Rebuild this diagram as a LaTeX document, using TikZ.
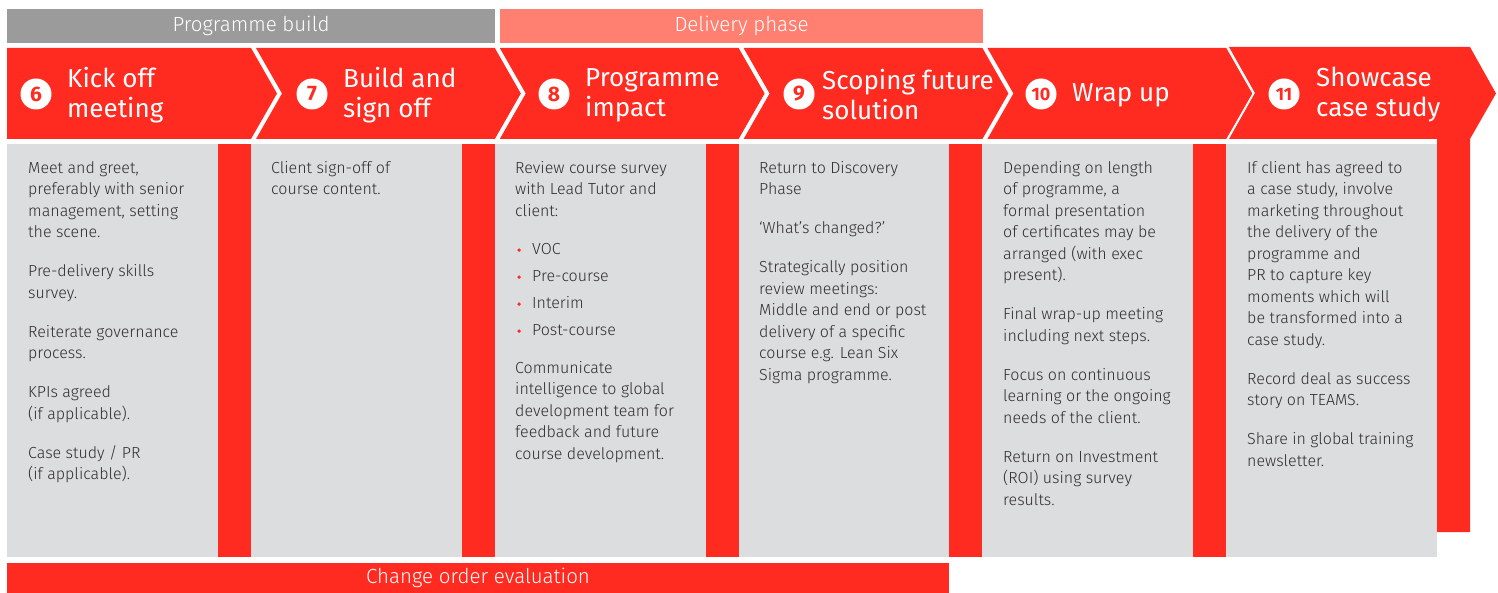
\documentclass[tikz,border=0pt]{standalone}
\usepackage{fontspec}
\setmainfont{Fira Sans Light}
\newfontfamily\headfont{Fira Sans}
\usetikzlibrary{positioning}
\definecolor{brandred}{RGB}{255,42,32}
\definecolor{salmon}{RGB}{255,128,112}
\definecolor{phasegray}{RGB}{155,155,155}
\definecolor{boxgray}{RGB}{220,221,223}
\definecolor{bodytext}{RGB}{45,45,45}
\newcommand{\pgap}{\\[17.5pt]}
\newcommand{\bitem}[1]{\makebox[17pt][l]{\hspace{2pt}\tikz[baseline=-4.2pt]\fill[brandred] (0,0) circle[radius=1.9pt];}#1}

\begin{document}
\begin{tikzpicture}[x=1pt, y=-1pt,
    phase/.style={text=white, inner sep=0pt, font=\fontsize{20.5}{20.5}\selectfont},
    head/.style={anchor=west, text=white, align=left, inner sep=0pt, font=\headfont\fontsize{26}{30}\selectfont},
    num/.style={circle, fill=white, text=brandred, minimum size=31pt, inner sep=0pt, font=\headfont\bfseries\fontsize{21}{21}\selectfont},
    body/.style={anchor=north west, text=bodytext, align=left, inner sep=0pt, font=\fontsize{16}{21.5}\selectfont}]
  \useasboundingbox (0,0) rectangle (1498,593);
  % phase bars
  \fill[phasegray] (7,9) rectangle (495,43);
  \fill[salmon] (500,9) rectangle (983,43);
  \node[phase] (build) at (251,26) {Programme build};
  \node[phase] (delivery) at (741.5,26) {Delivery phase};
  % chevrons
  \foreach \l/\r/\n in {7/251/0, 256/494.8/26, 499.8/738.6/26, 743.6/982.4/26, 987.4/1226.2/26}
    \fill[brandred] (\l,48) -- (\r,48) -- ++(26,45.5) -- (\r,139) -- (\l,139) -- ++(\n,-45.5) -- cycle;
  \fill[brandred] (1229,47) -- (1470,47) -- ++(26,46.5) -- (1470,139) -- (1470,532)
    -- (1437,532) -- (1437,139) -- (1229,139) -- ++(26,-46) -- cycle;
  % content columns
  \foreach \l/\r in {7/251, 251/494.8, 494.8/738.6, 738.6/982.4, 982.4/1226.2}{
    \fill[boxgray] (\l,144) rectangle (\r-33,557);
    \fill[brandred] (\r-33,144) rectangle (\r,557);
  }
  \fill[boxgray] (1226.2,144) rectangle (1437,557);
  \fill[brandred] (7,563) rectangle (949,593);
  \node[phase] (change) at (478,578) {Change order evaluation};
  % headings
  \node[num] (num6) at (36,94) {6};
  \node[head] (head6) at (67,95) {Kick off\\meeting};
  \node[num] (num7) at (312,94) {7};
  \node[head] (head7) at (343,95) {Build and\\sign off};
  \node[num] (num8) at (554,94) {8};
  \node[head] (head8) at (585,95) {Programme\\impact};
  \node[num] (num9) at (799,94) {9};
  \node[head] (head9) at (822,95) {Scoping future\\solution};
  \node[num, font=\headfont\bfseries\fontsize{18}{18}\selectfont] (num10) at (1041,94) {10};
  \node[head] (head10) at (1072,95) {Wrap up};
  \node[num, font=\headfont\bfseries\fontsize{18}{18}\selectfont] (num11) at (1284,94) {11};
  \node[head] (head11) at (1316,95) {Showcase\\case study};
  % column texts
  \node[body] (body6) at (28,161) {Meet and greet,\\preferably with senior\\management, setting\\the scene.\pgap
    Pre-delivery skills\\survey.\pgap Reiterate governance\\process.\pgap
    KPIs agreed\\(if applicable).\pgap Case study / PR\\(if applicable).};
  \node[body] (body7) at (271,161) {Client sign-off of\\course content.};
  \node[body] (body8) at (515,161) {Review course survey\\with Lead Tutor and\\client:\\[16.5pt]
    \bitem{VOC}\\[5.5pt] \bitem{Pre-course}\\[5.5pt] \bitem{Interim}\\[5.5pt] \bitem{Post-course}\\[16.5pt]
    Communicate\\intelligence to global\\development team for\\feedback and future\\course development.};
  \node[body] (body9) at (759,161) {Return to Discovery\\Phase\pgap ‘What’s changed?’\pgap
    Strategically position\\review meetings:\\Middle and end or post\\delivery of a specific\\course e.g. Lean Six\\Sigma programme.};
  \node[body] (body10) at (1003,161) {Depending on length\\of programme, a\\formal presentation\\of certificates may be\\arranged (with exec\\present).\pgap
    Final wrap-up meeting\\including next steps.\pgap Focus on continuous\\learning or the ongoing\\needs of the client.\pgap
    Return on Investment\\(ROI) using survey\\results.};
  \node[body] (body11) at (1247,161) {If client has agreed to\\a case study, involve\\marketing throughout\\the delivery of the\\programme and\\PR to capture key\\moments which will\\be transformed into a\\case study.\pgap
    Record deal as success\\story on TEAMS.\pgap Share in global training\\newsletter.};
\end{tikzpicture}
\end{document}
